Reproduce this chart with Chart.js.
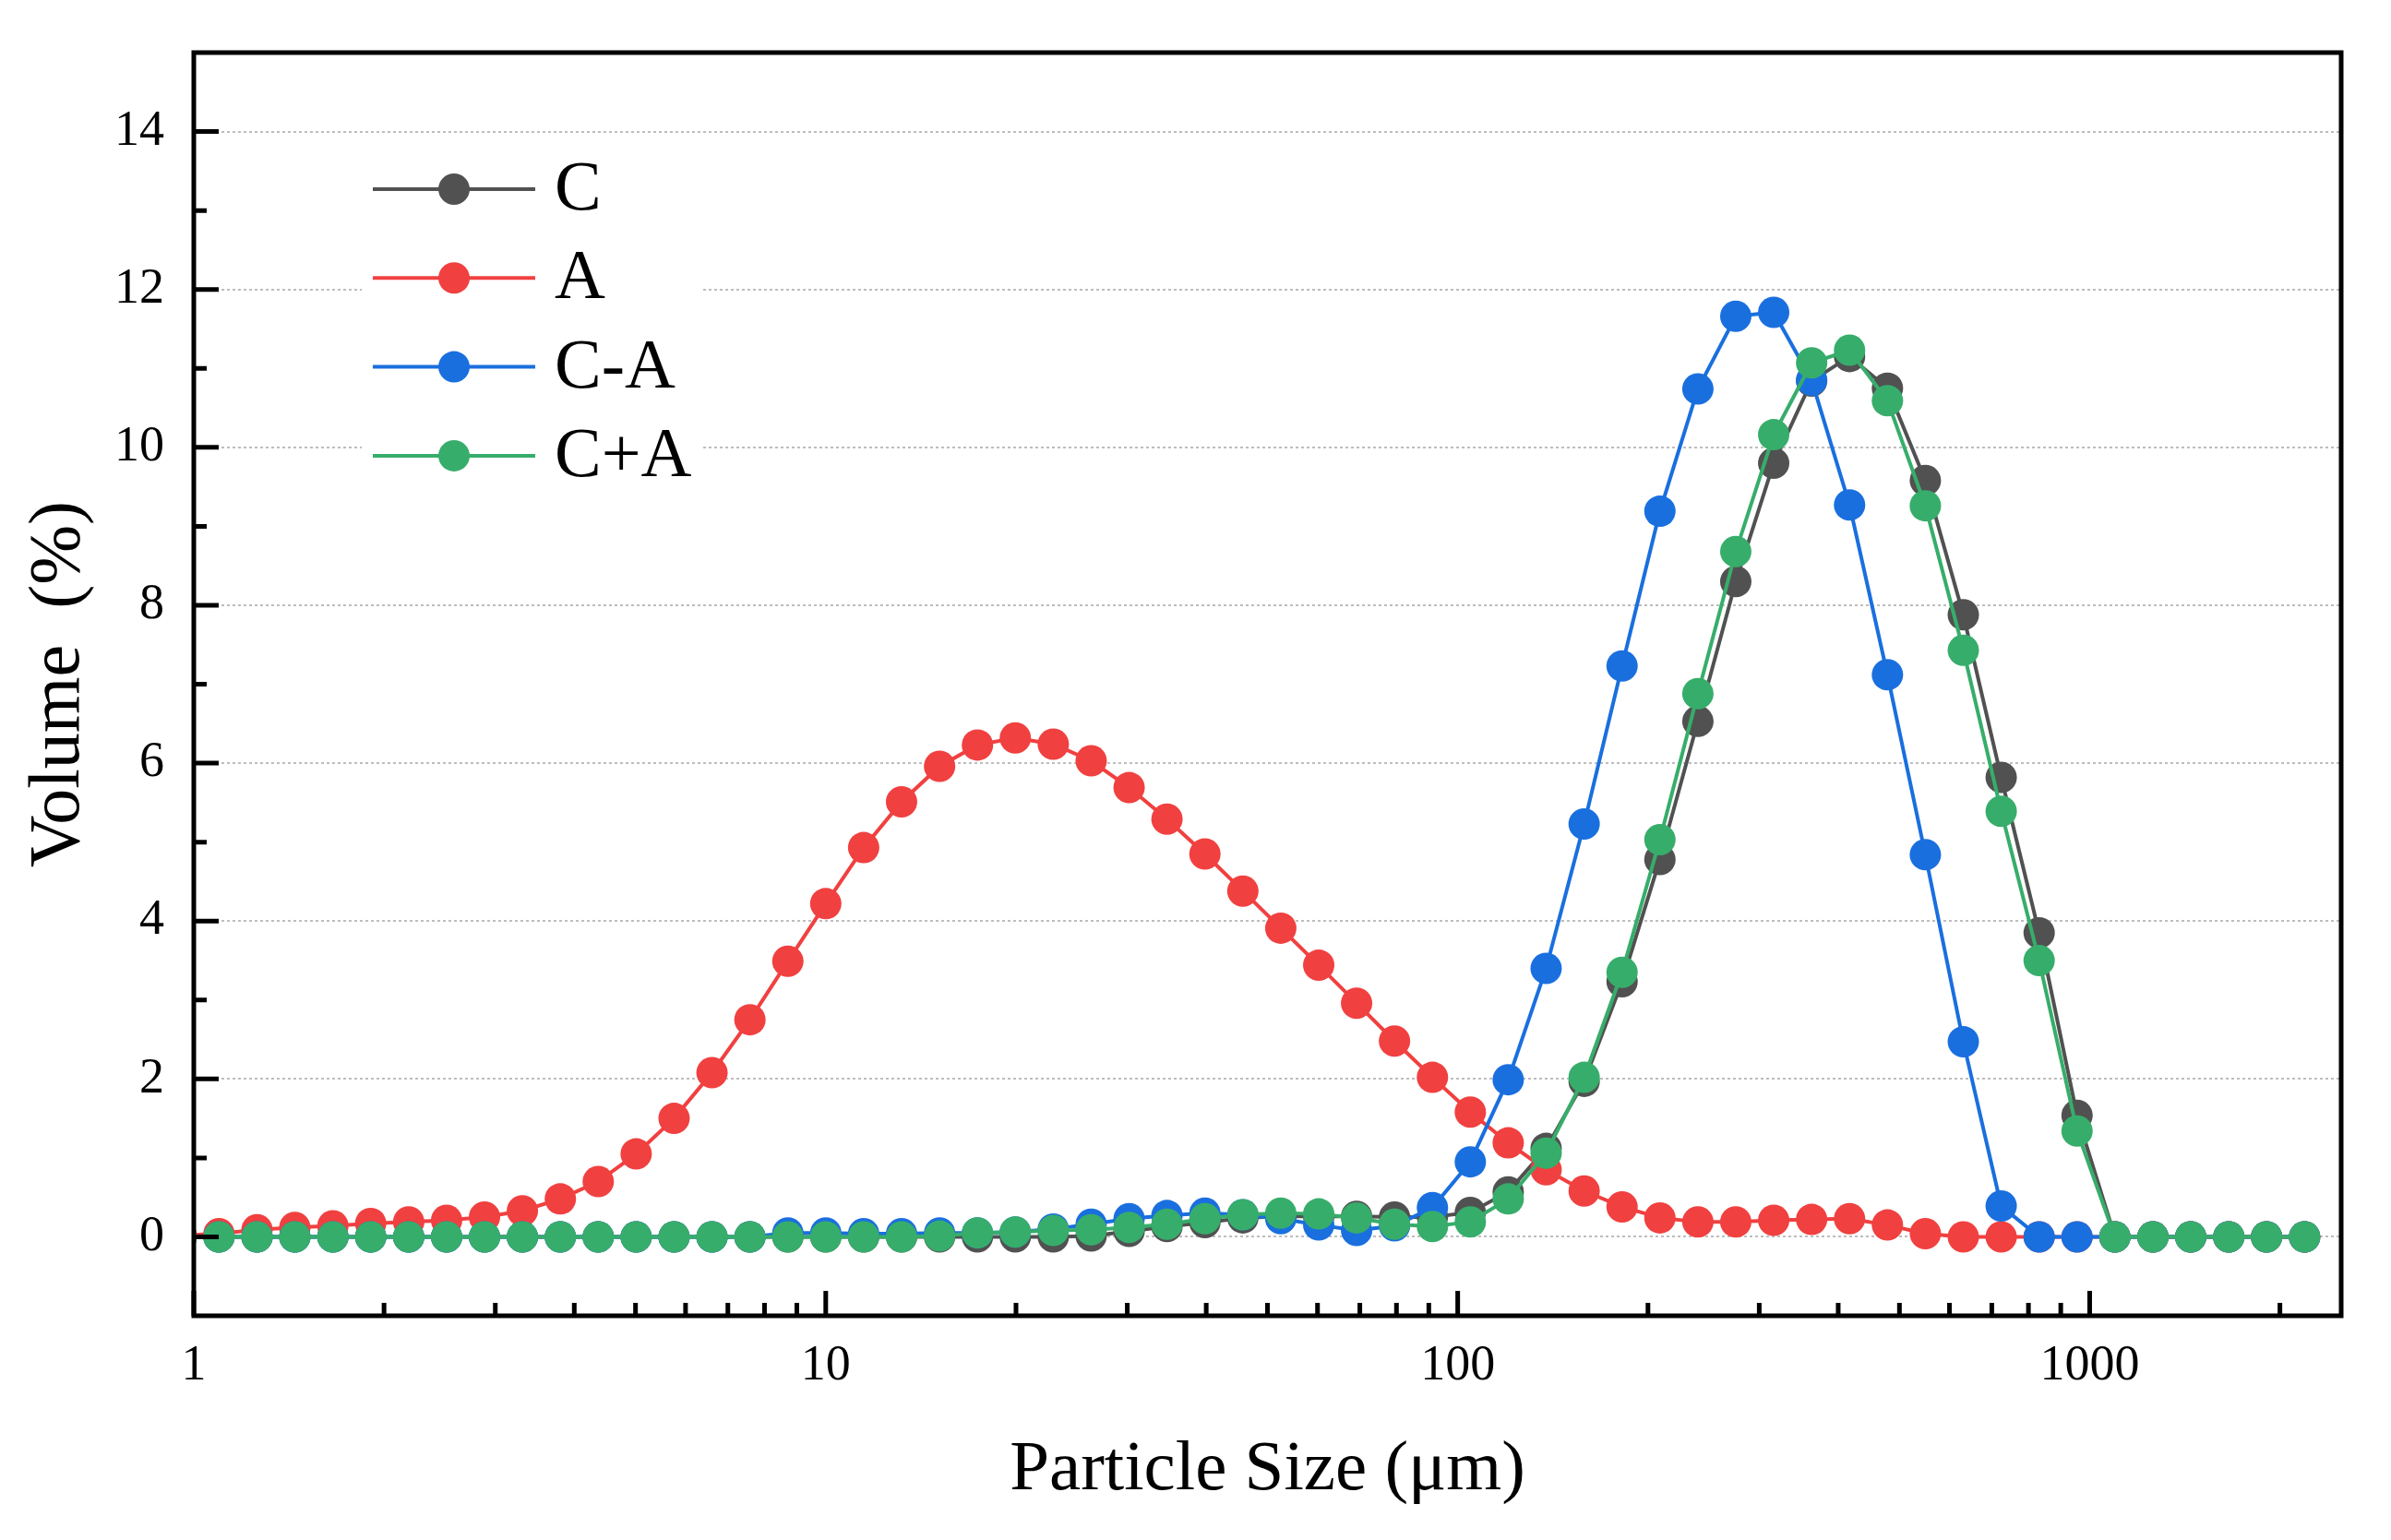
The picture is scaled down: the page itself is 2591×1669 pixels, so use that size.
<!DOCTYPE html>
<html>
<head>
<meta charset="utf-8">
<title>Particle size distribution</title>
<script src="https://cdn.jsdelivr.net/npm/chart.js@4.4.1/dist/chart.umd.min.js"></script>
<style>
  html, body { margin: 0; padding: 0; background: #fff; }
  canvas { display: block; }
</style>
</head>
<body>
<canvas id="psdChart" width="2591" height="1669"></canvas>
<script>
// particle size classes (um)
const sizes = [0.955, 1.096, 1.259, 1.445, 1.660, 1.905, 2.188, 2.512, 2.884, 3.311,
    3.802, 4.365, 5.012, 5.754, 6.607, 7.586, 8.710, 10.00, 11.48, 13.18,
    15.14, 17.38, 19.95, 22.91, 26.30, 30.20, 34.67, 39.81, 45.71, 52.48,
    60.26, 69.18, 79.43, 91.20, 104.7, 120.2, 138.0, 158.5, 182.0, 208.9,
    239.9, 275.4, 316.2, 363.1, 416.9, 478.6, 549.5, 631.0, 724.4, 831.8,
    955.0, 1096, 1259, 1445, 1660, 1905, 2188];

const volC = [0, 0, 0, 0, 0, 0, 0, 0, 0, 0,
    0, 0, 0, 0, 0, 0, 0, 0, 0, 0,
    0, 0, 0, 0, 0.01, 0.07, 0.13, 0.18, 0.24, 0.26,
    0.26, 0.26, 0.25, 0.25, 0.31, 0.57, 1.12, 1.97, 3.23, 4.78,
    6.53, 8.30, 9.80, 10.84, 11.15, 10.75, 9.58, 7.88, 5.82, 3.85,
    1.54, 0, 0, 0, 0, 0, 0];

const volA = [0.02, 0.04, 0.09, 0.12, 0.14, 0.17, 0.19, 0.21, 0.25, 0.33,
    0.48, 0.70, 1.05, 1.50, 2.08, 2.75, 3.49, 4.22, 4.93, 5.51,
    5.96, 6.23, 6.32, 6.24, 6.03, 5.69, 5.29, 4.85, 4.38, 3.91,
    3.44, 2.96, 2.48, 2.02, 1.58, 1.19, 0.85, 0.58, 0.38, 0.24,
    0.19, 0.19, 0.21, 0.22, 0.23, 0.15, 0.04, 0, 0, 0,
    0, 0, 0, 0, 0, 0, 0];

const volCminusA = [0, 0, 0, 0, 0, 0, 0, 0, 0, 0,
    0, 0, 0, 0, 0, 0, 0.05, 0.05, 0.04, 0.04,
    0.05, 0.05, 0.06, 0.10, 0.16, 0.23, 0.27, 0.30, 0.28, 0.23,
    0.15, 0.08, 0.14, 0.37, 0.95, 1.99, 3.40, 5.23, 7.23, 9.19,
    10.74, 11.66, 11.71, 10.85, 9.27, 7.12, 4.84, 2.47, 0.39, 0,
    0, 0, 0, 0, 0, 0, 0];

const volCplusA = [0, 0, 0, 0, 0, 0, 0, 0, 0, 0,
    0, 0, 0, 0, 0, 0, 0, 0, 0, 0,
    0.01, 0.05, 0.06, 0.08, 0.09, 0.12, 0.16, 0.23, 0.28, 0.30,
    0.29, 0.24, 0.16, 0.13, 0.19, 0.48, 1.06, 2.02, 3.35, 5.03,
    6.88, 8.68, 10.16, 11.07, 11.23, 10.59, 9.26, 7.43, 5.39, 3.50,
    1.34, 0, 0, 0, 0, 0, 0];

const seriesNames = ['C', 'A', 'C-A', 'C+A'];
const seriesColors = ['#515151', '#F14040', '#1A6FDF', '#37AD6B'];

const xMajorTicks = [1, 10, 100, 1000];
const xMinorTicks = [2, 3, 4, 5, 6, 7, 8, 9, 20, 30, 40, 50, 60, 70, 80, 90,
    200, 300, 400, 500, 600, 700, 800, 900, 2000];
const yMajorTicks = [0, 2, 4, 6, 8, 10, 12, 14];
const yMinorTicks = [1, 3, 5, 7, 9, 11, 13];

const serif = "'Liberation Serif', 'Times New Roman', serif";

const makeSet = (i, values) => ({
    label: seriesNames[i],
    data: sizes.map((s, k) => ({ x: s, y: values[k] })),
    borderColor: seriesColors[i],
    backgroundColor: seriesColors[i],
    pointBackgroundColor: seriesColors[i],
    pointBorderColor: seriesColors[i],
    pointBorderWidth: 0,
    pointRadius: 17,
    pointHoverRadius: 17,
    borderWidth: 4,
    tension: 0,
    order: 4 - i
});

// inward ticks + closed frame, like the Origin style axes
const frameTicks = {
    id: 'frameTicks',
    afterDatasetsDraw(chart) {
        const { ctx, chartArea: a, scales: { x, y } } = chart;
        ctx.save();
        ctx.strokeStyle = '#000';
        ctx.lineWidth = 5;
        ctx.lineCap = 'butt';
        ctx.beginPath();
        yMajorTicks.forEach(v => {
            const py = y.getPixelForValue(v);
            ctx.moveTo(a.left, py); ctx.lineTo(a.left + 27, py);
        });
        yMinorTicks.forEach(v => {
            const py = y.getPixelForValue(v);
            ctx.moveTo(a.left, py); ctx.lineTo(a.left + 14, py);
        });
        xMajorTicks.forEach(v => {
            const px = x.getPixelForValue(v);
            ctx.moveTo(px, a.bottom); ctx.lineTo(px, a.bottom - 27);
        });
        xMinorTicks.forEach(v => {
            const px = x.getPixelForValue(v);
            ctx.moveTo(px, a.bottom); ctx.lineTo(px, a.bottom - 14);
        });
        ctx.stroke();
        ctx.strokeRect(a.left, a.top, a.right - a.left, a.bottom - a.top);
        ctx.restore();
    }
};

// legend drawn inside the plot, top left
const insideLegend = {
    id: 'insideLegend',
    afterDraw(chart) {
        const { ctx, chartArea: a } = chart;
        const left = a.left + 194;
        const top = a.top + 148;
        const rowGap = 96.3;
        ctx.save();
        ctx.fillStyle = '#fff';
        ctx.fillRect(left - 12, a.top + 105, 370, 385);
        chart.data.datasets.forEach((ds, i) => {
            const cy = top + i * rowGap;
            ctx.strokeStyle = ds.borderColor;
            ctx.lineWidth = 4;
            ctx.beginPath();
            ctx.moveTo(left, cy);
            ctx.lineTo(left + 176, cy);
            ctx.stroke();
            ctx.fillStyle = ds.borderColor;
            ctx.beginPath();
            ctx.arc(left + 88, cy, 17, 0, Math.PI * 2);
            ctx.fill();
            ctx.fillStyle = '#000';
            ctx.font = '76px ' + serif;
            ctx.textAlign = 'left';
            ctx.textBaseline = 'middle';
            ctx.fillText(ds.label, left + 197, cy + 2);
        });
        ctx.restore();
    }
};

new Chart(document.getElementById('psdChart').getContext('2d'), {
    type: 'line',
    data: {
        datasets: [
            makeSet(0, volC),
            makeSet(1, volA),
            makeSet(2, volCminusA),
            makeSet(3, volCplusA)
        ]
    },
    options: {
        responsive: false,
        devicePixelRatio: 1,
        animation: false,
        layout: { padding: { left: 0, top: 57, right: 54, bottom: 0 } },
        plugins: {
            legend: { display: false },
            tooltip: { enabled: false }
        },
        scales: {
            x: {
                type: 'logarithmic',
                min: 1,
                max: 2500,
                afterBuildTicks: s => { s.ticks = xMajorTicks.map(v => ({ value: v })); },
                afterFit: s => { s.height = 243; s.paddingLeft = 0; s.paddingRight = 0; },
                grid: { display: false, drawTicks: false },
                border: { display: false },
                ticks: {
                    autoSkip: false,
                    maxRotation: 0,
                    padding: 22,
                    color: '#000',
                    font: { family: serif, size: 54 },
                    callback: v => String(v)
                },
                title: {
                    display: true,
                    text: 'Particle Size (μm)',
                    color: '#000',
                    font: { family: serif, size: 77 },
                    padding: { top: 0, bottom: 29 }
                }
            },
            y: {
                min: -1,
                max: 15,
                afterBuildTicks: s => { s.ticks = yMajorTicks.map(v => ({ value: v })); },
                afterFit: s => { s.width = 210; s.paddingTop = 0; s.paddingBottom = 0; },
                grid: { color: '#bdbdbd', lineWidth: 2, drawTicks: false },
                border: { display: false, dash: [3, 3] },
                ticks: {
                    padding: 32,
                    color: '#000',
                    font: { family: serif, size: 54 },
                    callback: v => String(v)
                },
                title: {
                    display: true,
                    text: 'Volume  (%)',
                    color: '#000',
                    font: { family: serif, size: 78 },
                    padding: { top: 18, bottom: 0 }
                }
            }
        }
    },
    plugins: [frameTicks, insideLegend]
});
</script>
</body>
</html>
